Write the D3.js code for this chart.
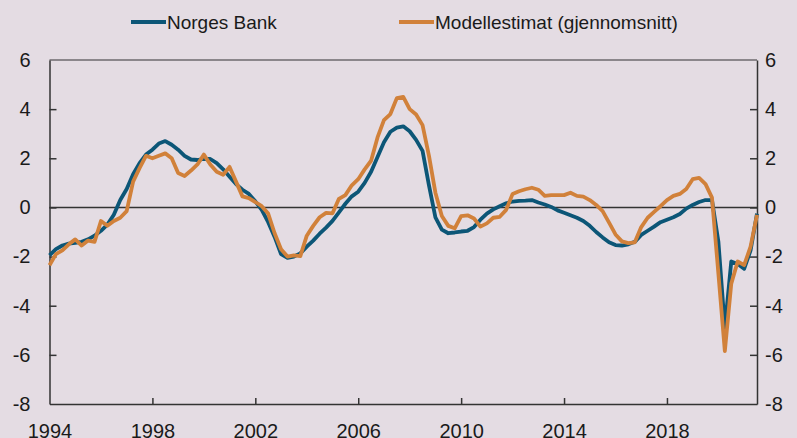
<!DOCTYPE html>
<html><head><meta charset="utf-8">
<script src="https://cdn.jsdelivr.net/npm/d3@7"></script>
<style>body{margin:0;background:#e4dce3;overflow:hidden}</style>
</head><body><svg id="c" width="797" height="438"></svg>
<script>
const startYear = 1994;
const norgesBank = [
 -1.95,-1.7,-1.55,-1.47, -1.44,-1.4,-1.3,-1.15, -0.95,-0.7,-0.3,0.3, 0.75,1.35,1.8,2.15,
 2.35,2.6,2.7,2.55, 2.35,2.1,1.95,1.93, 1.98,1.97,1.8,1.55, 1.25,0.95,0.72,0.55,
 0.25,-0.1,-0.6,-1.2, -1.9,-2.05,-2.0,-1.87, -1.6,-1.35,-1.07,-0.82, -0.55,-0.2,0.15,0.45,
 0.64,1.0,1.45,2.05, 2.65,3.08,3.25,3.3, 3.1,2.75,2.3,0.9, -0.4,-0.9,-1.05,-1.02,
 -0.98,-0.95,-0.8,-0.5, -0.25,-0.08,0.05,0.17, 0.24,0.27,0.28,0.3, 0.2,0.12,0.02,-0.12,
 -0.22,-0.32,-0.42,-0.55, -0.75,-1.0,-1.22,-1.42, -1.53,-1.55,-1.5,-1.4, -1.12,-0.95,-0.78,-0.6,
 -0.5,-0.4,-0.27,-0.05, 0.1,0.22,0.3,0.3, -1.4,-4.9,-2.2,-2.3, -2.5,-1.75,-0.25
];
const modellestimat = [
 -2.35,-1.9,-1.75,-1.5, -1.3,-1.55,-1.35,-1.4, -0.55,-0.75,-0.55,-0.42, -0.15,1.05,1.6,2.1,
 2.0,2.1,2.2,2.0, 1.4,1.28,1.5,1.75, 2.15,1.75,1.45,1.33, 1.65,1.05,0.45,0.38,
 0.22,0.05,-0.25,-1.05, -1.7,-2.0,-1.95,-1.98, -1.15,-0.75,-0.4,-0.22, -0.24,0.35,0.5,0.9,
 1.15,1.55,1.9,2.85, 3.55,3.8,4.45,4.5, 4.0,3.78,3.35,2.1, 0.6,-0.35,-0.75,-0.85,
 -0.35,-0.32,-0.45,-0.78, -0.65,-0.42,-0.38,-0.1, 0.55,0.66,0.74,0.8, 0.72,0.47,0.5,0.5,
 0.5,0.6,0.47,0.44, 0.3,0.1,-0.15,-0.62, -1.1,-1.38,-1.45,-1.42, -0.8,-0.42,-0.18,0.05,
 0.3,0.47,0.55,0.75, 1.15,1.2,0.95,0.4, -2.7,-5.85,-3.1,-2.2, -2.35,-1.6,-0.3
];
const yTicks = [-8,-6,-4,-2,0,2,4,6];
const xTicks = [1994,1998,2002,2006,2010,2014,2018];
const seriesNames = ["Norges Bank","Modellestimat (gjennomsnitt)"];
const seriesColors = ["#0c5677","#d1813a"];

const svg = d3.select("#c");
const font = "'Liberation Sans', Arial, sans-serif";
const L = 49.5, R = 757, T = 60, B = 404;
const x = d3.scaleLinear().domain([1994, 2021.5]).range([L, R]);
const y = d3.scaleLinear().domain([-8, 6]).range([B, T]);
const fmt = d => String(d);

svg.append("rect").attr("width",797).attr("height",438).attr("fill","#e4dce3");

svg.append("line").attr("x1",L).attr("x2",R).attr("y1",T).attr("y2",T)
  .attr("stroke","#6e6a6e").attr("stroke-width",1.5);
svg.append("line").attr("x1",L).attr("x2",R).attr("y1",y(0)).attr("y2",y(0))
  .attr("stroke","#333").attr("stroke-width",1.5);

function styleAxis(g){
  g.select(".domain").attr("stroke","#333").attr("stroke-width",1.5);
  g.selectAll(".tick line").attr("stroke","#333").attr("stroke-width",1.5);
  g.selectAll("text").attr("font-family",font).attr("font-size",20).attr("fill","#1a1a1a");
}

const yl = svg.append("g").attr("transform",`translate(${L},0)`)
  .call(d3.axisLeft(y).tickValues(yTicks).tickSize(-7).tickSizeOuter(0).tickPadding(19).tickFormat(fmt));
styleAxis(yl);
yl.selectAll(".tick").filter(d=>d===-8||d===6).select("line").remove();

const yr = svg.append("g").attr("transform",`translate(${R},0)`)
  .call(d3.axisRight(y).tickValues(yTicks).tickSize(-7).tickSizeOuter(0).tickPadding(8).tickFormat(fmt));
styleAxis(yr);
yr.selectAll(".tick").filter(d=>d===-8||d===6).select("line").remove();

const xb = svg.append("g").attr("transform",`translate(0,${B})`)
  .call(d3.axisBottom(x).tickValues(xTicks).tickSize(-6).tickSizeOuter(0).tickFormat(fmt));
styleAxis(xb);
xb.selectAll(".tick").filter(d=>d===1994).select("line").remove();
xb.selectAll(".tick text").attr("y",34).attr("dy",0);

const line = d3.line().x((d,i)=>x(startYear + i*0.25)).y(d=>y(d));
[norgesBank, modellestimat].forEach((s,k)=>{
  svg.append("path").datum(s).attr("d",line).attr("fill","none")
    .attr("stroke",seriesColors[k]).attr("stroke-width",3.8).attr("stroke-linejoin","round");
});

const legX = [131, 399];
seriesNames.forEach((n,k)=>{
  svg.append("line").attr("x1",legX[k]).attr("x2",legX[k]+35).attr("y1",22).attr("y2",22)
    .attr("stroke",seriesColors[k]).attr("stroke-width",4);
  svg.append("text").attr("x",legX[k]+36).attr("y",22).attr("dy","0.35em")
    .attr("font-family",font).attr("font-size",19).attr("fill","#1a1a1a").text(n);
});
</script></body></html>
